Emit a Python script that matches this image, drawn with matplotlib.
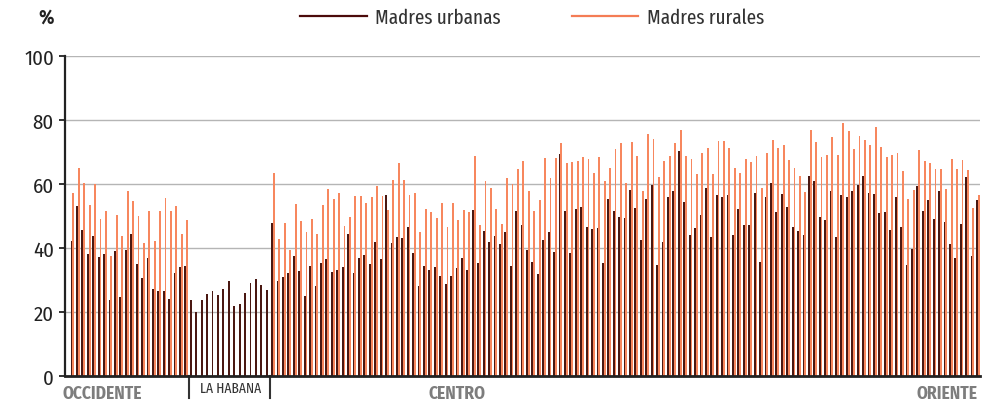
import numpy as np
import matplotlib
matplotlib.use("Agg")
import matplotlib.pyplot as plt
from matplotlib.lines import Line2D

plt.rcParams['font.family'] = ['Fira Sans Condensed', 'DejaVu Sans']
narrow = ['Fira Sans Extra Condensed', 'Fira Sans Condensed', 'DejaVu Sans']

# Porcentajes por municipio
occ_urb = [42.3, 53.2, 45.7, 38.0, 43.6, 37.1, 38.1, 23.6, 39.2, 24.7, 39.4,
           44.3, 35.1, 30.6, 36.9, 27.1, 26.6, 26.5, 24.0, 32.2, 34.2, 34.3]
occ_rur = [57.1, 65.0, 60.2, 53.3, 59.9, 49.0, 51.6, 37.4, 50.4, 43.8, 57.7,
           54.6, 50.1, 41.7, 51.7, 42.1, 51.7, 55.5, 51.6, 53.0, 44.4, 48.8]
hab_urb = [23.8, 19.9, 23.9, 25.7, 26.5, 25.3, 27.3, 29.7, 21.8, 22.5, 26.0,
           29.2, 30.2, 28.5, 26.9]
ce_urb = [47.9, 29.6, 30.9, 32.2, 37.4, 32.7, 25.0, 34.3, 28.2, 35.3, 36.6, 32.5, 33.1,
          34.2, 44.4, 32.2, 36.8, 37.9, 35.1, 42.0, 36.7, 56.5, 41.6, 43.3, 43.1, 46.7, 38.4, 28.1,
          34.4, 33.1, 34.1, 31.1, 28.6, 31.1, 33.8, 37.0, 33.0, 51.8, 35.4, 45.3, 42.0, 43.6, 41.1,
          45.1, 34.4, 51.6, 47.2, 39.4, 35.6, 31.9, 42.4, 45.1, 38.6, 69.3, 51.5, 38.3, 52.1,
          52.7, 46.7, 45.9, 46.4, 35.3, 55.4, 51.7, 49.7, 49.4, 58.2, 52.4, 42.5, 55.3, 59.8, 34.7,
          41.8, 56.0, 57.7, 70.3, 54.3, 44.1, 46.1, 50.2, 58.6, 43.4, 56.6, 56.0, 56.6, 44.1, 52.1,
          47.2, 47.2, 57.2, 35.5, 56.0, 60.2, 51.3, 56.8, 52.8, 46.5, 45.2, 44.1, 62.5, 60.9, 49.8,
          48.6, 57.8, 43.4, 56.7, 55.8, 57.8, 59.7, 62.5, 57.1, 57.0, 50.9, 51.4, 45.6, 56.0,
          46.7, 34.8, 39.7, 59.5, 51.6, 54.9, 49.2, 57.7, 48.0, 41.3, 36.8, 47.6, 62.3, 37.6, 54.9]
ce_rur = [63.5, 42.8, 47.8, 39.3, 53.8, 48.3, 44.9, 49.0, 44.5, 53.4, 58.3, 55.4, 57.1,
          47.0, 49.7, 56.4, 56.4, 54.2, 56.0, 59.4, 56.3, 52.0, 61.3, 66.7, 61.1, 56.6, 57.3, 45.1,
          52.2, 51.4, 49.3, 54.0, 46.6, 54.0, 48.8, 51.8, 51.4, 68.8, 47.2, 60.8, 58.8, 52.1, 47.4,
          61.8, 59.9, 64.7, 67.1, 57.8, 51.5, 55.0, 68.0, 62.0, 68.1, 72.7, 66.6, 66.8, 67.2,
          68.4, 67.8, 63.3, 68.4, 61.0, 65.0, 70.9, 72.7, 60.3, 73.1, 68.6, 57.7, 75.5, 74.1, 62.2,
          67.1, 68.6, 72.7, 77.0, 68.6, 67.7, 63.2, 69.8, 71.4, 63.1, 73.4, 73.4, 71.3, 65.1, 63.5,
          67.8, 66.8, 68.9, 58.8, 69.7, 73.6, 71.4, 72.2, 67.4, 65.1, 62.5, 57.5, 76.9, 73.0, 68.3,
          69.0, 74.7, 69.1, 79.1, 76.7, 70.8, 75.1, 73.6, 72.3, 77.9, 71.6, 68.4, 69.1, 69.6,
          64.0, 55.4, 58.1, 70.6, 67.2, 66.7, 64.7, 64.7, 58.4, 67.8, 64.7, 67.4, 64.3, 52.4, 56.6]

urb_color = '#4a1812'
rur_color = '#f7875e'

n_occ, n_hab, n_ce = len(occ_urb), len(hab_urb), len(ce_urb)
x_occ = np.arange(n_occ)
x_hab = np.arange(n_hab) + n_occ
x_ce = np.arange(n_ce) + n_occ + n_hab

fig = plt.figure(figsize=(9.98, 4.06), dpi=100)
ax = fig.add_axes([65 / 998, 29 / 406, 914.5 / 998, 320 / 406])

w = 0.34
off = 0.17
ax.bar(x_occ - off, occ_urb, width=w, color=urb_color, linewidth=0)
ax.bar(x_occ + off, occ_rur, width=w, color=rur_color, linewidth=0)
ax.bar(x_hab - off, hab_urb, width=w, color=urb_color, linewidth=0)
ax.bar(x_ce - off, ce_urb, width=w, color=urb_color, linewidth=0)
ax.bar(x_ce + off, ce_rur, width=w, color=rur_color, linewidth=0)

ax.set_xlim(-1.38, n_occ + n_hab + n_ce - 1 + 0.3)
ax.set_ylim(0, 100)
ax.set_yticks(range(0, 101, 20))
ax.set_xticks([])
ax.tick_params(axis='y', length=4, width=1.3, color='#222222', pad=4,
               labelsize=15, labelcolor='#222222')

ax.yaxis.grid(True, color='#b5b5b5', linewidth=1)
ax.set_axisbelow(True)
for s in ['top', 'right']:
    ax.spines[s].set_visible(False)
ax.spines['left'].set_linewidth(1.6)
ax.spines['left'].set_color('#222222')
ax.spines['bottom'].set_linewidth(2)
ax.spines['bottom'].set_color('#222222')

# separadores de regiones
for xs in [n_occ - 0.5, n_occ + n_hab - 0.5]:
    ax.axvline(xs, ymin=-0.069, ymax=0, color='#333333', lw=1.5, clip_on=False)

trans = ax.get_xaxis_transform()
ax.text(-1.75, -0.053, 'OCCIDENTE', transform=trans, ha='left', va='center',
        fontsize=12.5, fontweight='bold', color='#7d7d7d')
ax.text(29.1, -0.038, 'LA HABANA', transform=trans, ha='center', va='center',
        fontsize=10.5, color='#333333', family=narrow)
ax.text(70.9, -0.053, 'CENTRO', transform=trans, ha='center', va='center',
        fontsize=12.5, fontweight='bold', color='#7d7d7d')
ax.text(166.9, -0.053, 'ORIENTE', transform=trans, ha='right', va='center',
        fontsize=12.5, fontweight='bold', color='#7d7d7d')

fig.text(46 / 998, 1 - 18 / 406, '%', ha='center', va='center', fontsize=14,
         fontweight='bold', color='#222222')

handles = [Line2D([], [], color='#4b0a0a', lw=1.6),
           Line2D([], [], color='#f47c55', lw=1.6)]
fig.legend(handles, ['Madres urbanas', 'Madres rurales'], loc='center',
           bbox_to_anchor=(0.533, 0.955), ncol=2, frameon=False,
           prop={'family': narrow, 'size': 15},
           handlelength=3.2, handletextpad=0.4, columnspacing=3.4,
           labelcolor='#333333')

fig.savefig('out.png', dpi=100)
